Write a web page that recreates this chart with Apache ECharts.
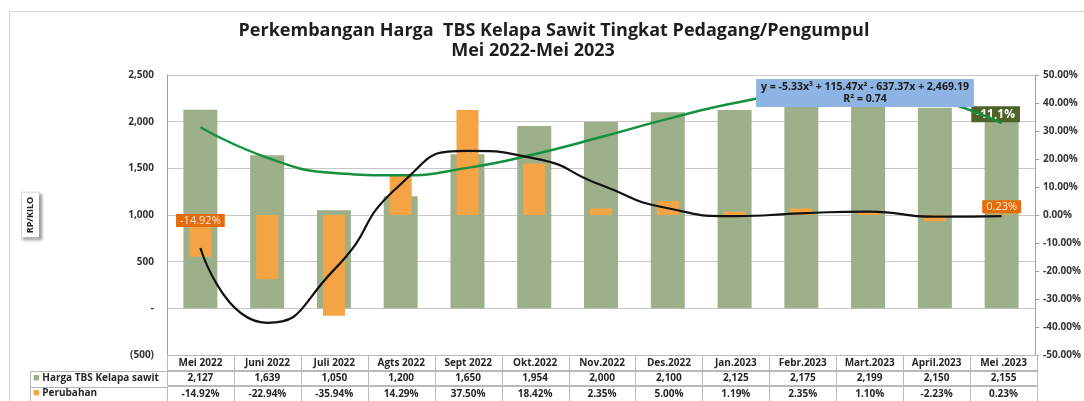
<!DOCTYPE html>
<html>
<head>
<meta charset="utf-8">
<script src="https://cdn.jsdelivr.net/npm/echarts@6/dist/echarts.min.js"></script>
<style>
  html, body { margin: 0; padding: 0; background: #fff; }
  #frame { position: absolute; left: 9px; top: 11px; width: 1090px; height: 400px; border-top: 1px solid #d4d4d4; border-left: 1px solid #d4d4d4; }
  #chart { position: absolute; left: 0; top: 0; width: 1084px; height: 401px; }
</style>
</head>
<body>
<div id="frame"></div>
<div id="chart"></div>
<script>
  // data
  const months = ['Mei 2022', 'Juni 2022', 'Juli 2022', 'Agts 2022', 'Sept 2022', 'Okt.2022', 'Nov.2022',
                  'Des.2022', 'Jan.2023', 'Febr.2023', 'Mart.2023', 'April.2023', 'Mei .2023'];
  const prices = [2127, 1639, 1050, 1200, 1650, 1954, 2000, 2100, 2125, 2175, 2199, 2150, 2155];
  const changes = [-14.92, -22.94, -35.94, 14.29, 37.50, 18.42, 2.35, 5.00, 1.19, 2.35, 1.10, -2.23, 0.23];
  // trend curves as they sit on each month
  const priceTrend = [1940, 1615, 1450, 1425, 1505, 1650, 1835, 2030, 2200, 2310, 2335, 2240, 1985];
  const changeTrend = [-11.8, -38.5, -19.6, 11.0, 22.9, 20.2, 10.7, 2.4, -0.4, 0.6, 1.2, -0.6, -0.4];
  const seriesNames = ['Harga TBS Kelapa sawit', 'Perubahan'];
  const tableRows = ['hdr', 'val', 'pct'];
  const titleLine1 = 'Perkembangan Harga  TBS Kelapa Sawit Tingkat Pedagang/Pengumpul';
  const titleLine2 = 'Mei 2022-Mei 2023';
  const trendEquation = 'y = -5.33x³ + 115.47x² - 637.37x + 2,469.19';
  const trendR2 = 'R² = 0.74';
  const trendChangeLabel = '-11,1%';

  const FONT = '"Open Sans", "Liberation Sans", sans-serif';
  const GREEN = '#9db08a';
  const ORANGE = '#f4a444';
  const GRID_LINE = '#c8c8c8';
  const last = months.length - 1;

  const fmtPrice = v => v.toLocaleString('en-US');
  const fmtPct = v => v.toFixed(2) + '%';

  function cellText(row, col) {
    if (row === 0) return months[col];
    if (row === 1) return fmtPrice(prices[col]);
    return fmtPct(changes[col]);
  }

  function renderCell(params, api) {
    const col = api.value(0), row = api.value(1);
    const c = api.coord([col, row]);
    const s = api.size([1, 1]);
    const x = Math.round(c[0] - s[0] / 2) + 0.5;
    const y = Math.round(c[1] - s[1] / 2) + 0.5;
    return {
      type: 'group',
      children: [
        { type: 'rect', shape: { x: x, y: y, width: Math.round(s[0]), height: Math.round(s[1]) },
          style: { fill: '#fff', stroke: '#b8b8b8', lineWidth: 1 } },
        { type: 'text', style: { text: cellText(row, col), x: c[0], y: c[1] + 0.5, align: 'center', verticalAlign: 'middle',
          font: 'bold 10px ' + FONT, fill: '#262626' } }
      ]
    };
  }

  const tableData = [];
  tableRows.forEach((r, ri) => months.forEach((m, ci) => tableData.push([ci, ri])));

  const priceData = prices.map((v, i) => i !== last ? v : {
    value: v,
    label: {
      show: true, position: 'insideTop', distance: 0, offset: [-6, -1],
      formatter: trendChangeLabel, backgroundColor: '#4f6228', color: '#fff',
      fontFamily: FONT, fontWeight: 'bold', fontSize: 12, padding: [2, 5]
    }
  });

  const pctLabel = {
    show: true, formatter: p => fmtPct(p.value), backgroundColor: '#e46c0a', color: '#fde9d9',
    fontFamily: FONT, fontSize: 11, padding: [1, 4]
  };
  const changeData = changes.map((v, i) => {
    if (i === 0) return { value: v, label: Object.assign({}, pctLabel, { position: 'insideTop', distance: 0, offset: [0, -1] }) };
    if (i === last) return { value: v, label: Object.assign({}, pctLabel, { position: 'top', distance: 1 }) };
    return v;
  });

  const chart = echarts.init(document.getElementById('chart'));
  chart.setOption({
    animation: false,
    textStyle: { fontFamily: FONT },
    title: [
      { text: titleLine1, left: 554, top: 22, padding: 0, textAlign: 'center',
        textStyle: { fontSize: 18, fontWeight: 'bold', color: '#1e1e1e', fontFamily: FONT } },
      { text: titleLine2, left: 533, top: 42, padding: 0, textAlign: 'center',
        textStyle: { fontSize: 18, fontWeight: 'bold', color: '#1e1e1e', fontFamily: FONT } },
      { text: trendEquation + '\n' + trendR2, left: 860, top: 79, padding: [2, 5], textAlign: 'center',
        backgroundColor: '#8db4e2', z: 10,
        textStyle: { fontSize: 10.5, fontWeight: 'bold', color: '#1a1a1a', lineHeight: 12, fontFamily: FONT } }
    ],
    grid: [
      { left: 167, right: 47, top: 75, bottom: 46 },
      { left: 167, right: 47, top: 355, height: 48 }
    ],
    xAxis: [
      { type: 'category', gridIndex: 0, data: months, axisLabel: { show: false }, axisTick: { show: false },
        axisLine: { show: false } },
      { type: 'category', gridIndex: 0, data: months, show: false },
      { type: 'category', gridIndex: 1, data: months, show: false }
    ],
    yAxis: [
      { type: 'value', gridIndex: 0, min: -500, max: 2500, interval: 500,
        name: 'RP/KILO', nameLocation: 'middle', nameGap: 128, nameRotate: 90,
        nameTextStyle: { fontSize: 9, fontWeight: 'bold', color: '#222', backgroundColor: '#fff',
          borderColor: '#d8d8d8', borderWidth: 1, padding: [4, 4],
          shadowColor: 'rgba(0,0,0,0.35)', shadowBlur: 3, shadowOffsetX: 2, shadowOffsetY: 2 },
        axisLine: { show: true, lineStyle: { color: '#a0a0a0' } }, axisTick: { show: false },
        axisLabel: { margin: 13, fontSize: 10, fontWeight: 'bold', color: '#333',
          formatter: v => v === 0 ? '-' : (v < 0 ? '(' + fmtPrice(-v) + ')' : fmtPrice(v)) },
        splitLine: { show: true, lineStyle: { color: GRID_LINE } } },
      { type: 'value', gridIndex: 0, position: 'right', min: -50, max: 50, interval: 10,
        axisLine: { show: true, lineStyle: { color: '#a0a0a0' } },
        axisTick: { show: true, length: 4, lineStyle: { color: '#a0a0a0' } },
        axisLabel: { margin: 8, fontSize: 10, fontWeight: 'bold', color: '#333', formatter: v => v.toFixed(2) + '%' },
        splitLine: { show: false } },
      { type: 'category', gridIndex: 1, data: tableRows, inverse: true,
        axisLine: { show: false }, axisTick: { show: false }, splitLine: { show: false },
        axisLabel: {
          interval: 0, hideOverlap: false, margin: 137, align: 'left',
          width: 131, height: 14, lineHeight: 14, padding: [0, 3],
          fontSize: 10, fontWeight: 'bold', color: '#262626',
          formatter: v => v === 'hdr' ? '' : (v === 'val' ? '{g|■} {c|' + seriesNames[0] + '}' : '{o|■} {c|' + seriesNames[1] + '}'),
          rich: {
            g: { color: GREEN, fontSize: 11 }, o: { color: ORANGE, fontSize: 11 },
            c: { fontSize: 10, fontWeight: 'bold', color: '#262626' }
          }
        } }
    ],
    graphic: [
      // borders of the legend column of the data table
      { type: 'polyline', silent: true, z: 5,
        shape: { points: [[1037, 371.5], [30.5, 371.5], [30.5, 402]] }, style: { stroke: '#b8b8b8', fill: null, lineWidth: 1 } },
      { type: 'line', silent: true, z: 5,
        shape: { x1: 30.5, y1: 387.5, x2: 167, y2: 387.5 }, style: { stroke: '#b8b8b8', lineWidth: 1 } }
    ],
    series: [
      { name: seriesNames[0], type: 'bar', xAxisIndex: 0, yAxisIndex: 0, data: priceData, barWidth: 34,
        itemStyle: { color: GREEN } },
      { name: seriesNames[1], type: 'bar', xAxisIndex: 1, yAxisIndex: 1, data: changeData, barWidth: 22,
        itemStyle: { color: ORANGE } },
      { name: 'trend harga', type: 'line', xAxisIndex: 0, yAxisIndex: 0, data: priceTrend, smooth: 0.5,
        showSymbol: false, lineStyle: { color: '#14903f', width: 2.5 } },
      { name: 'trend perubahan', type: 'line', xAxisIndex: 0, yAxisIndex: 1, data: changeTrend, smooth: 0.6,
        showSymbol: false, lineStyle: { color: '#111', width: 2.2 } },
      { name: 'tabel', type: 'custom', xAxisIndex: 2, yAxisIndex: 2, data: tableData, renderItem: renderCell,
        silent: true }
    ]
  });
</script>
</body>
</html>
